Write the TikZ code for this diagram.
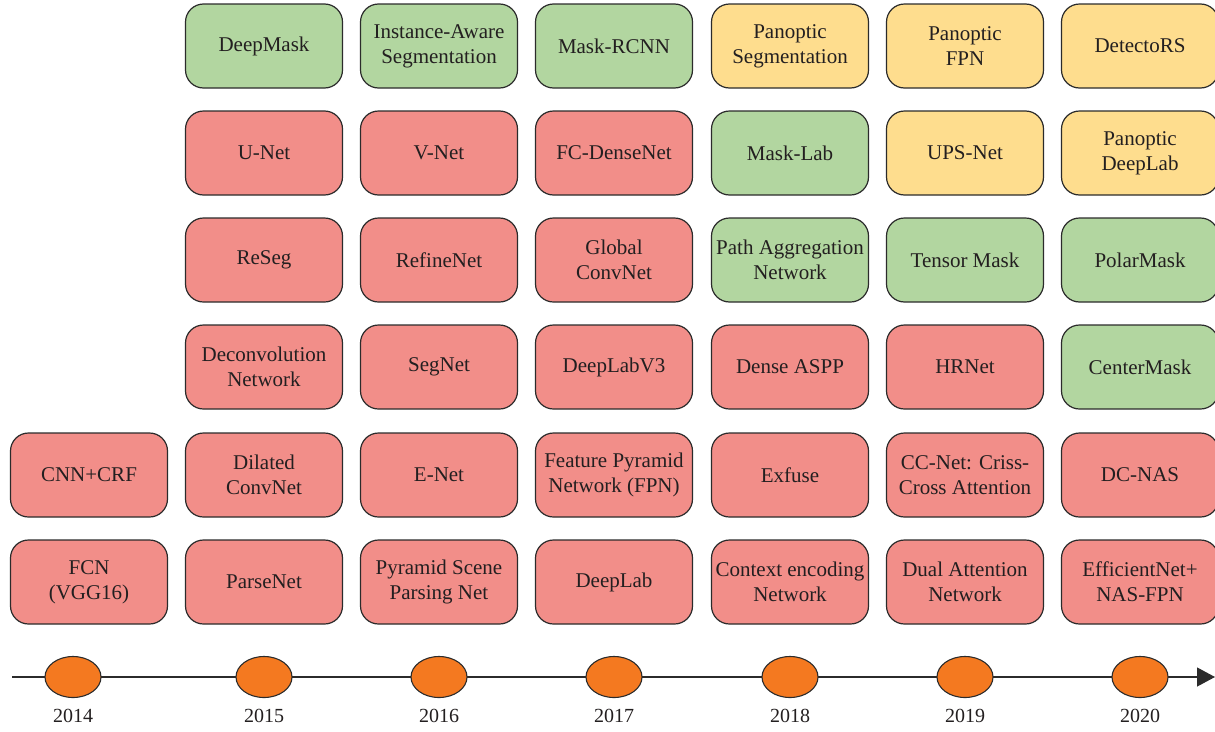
\documentclass[tikz,border=0pt]{standalone}
\usepackage{fontspec}
\setmainfont{Liberation Serif}
\usetikzlibrary{arrows.meta,shapes.geometric}
\definecolor{segred}{HTML}{F28E89}
\definecolor{seggreen}{HTML}{B2D6A0}
\definecolor{segyellow}{HTML}{FEDD8E}
\definecolor{yearorange}{HTML}{F47920}
\definecolor{edge}{HTML}{2B2B2B}
\definecolor{ink}{HTML}{231F20}
\tikzset{
  model/.style={draw=edge, line width=1.2pt, rounded corners=18pt,
    minimum width=157pt, minimum height=84pt, inner sep=2pt, align=center,
    font=\fontsize{21}{25}\selectfont, text=ink},
  semantic/.style={model, fill=segred},
  instance/.style={model, fill=seggreen},
  panoptic/.style={model, fill=segyellow},
  yeardot/.style={ellipse, draw=edge, line width=1.1pt, fill=yearorange,
    minimum width=56pt, minimum height=41pt, inner sep=0pt},
  yearlabel/.style={font=\fontsize{20}{22}\selectfont, text=ink},
}
\begin{document}
\begin{tikzpicture}[x=1pt,y=-1pt]
\useasboundingbox (0,0) rectangle (1215,731);

% row 1 (top)
\node[instance] (deepmask) at (264,46) {DeepMask};
\node[instance] (instaware) at (439,46) {Instance-Aware\\Segmentation};
\node[instance] (maskrcnn) at (614,46) {Mask-RCNN};
\node[panoptic] (panseg) at (790,46) {Panoptic\\Segmentation};
\node[panoptic] (panfpn) at (965,46) {Panoptic\\FPN};
\node[panoptic] (detectors) at (1140,46) {DetectoRS};

% row 2
\node[semantic] (unet) at (264,153) {U-Net};
\node[semantic] (vnet) at (439,153) {V-Net};
\node[semantic] (fcdense) at (614,153) {FC-DenseNet};
\node[instance] (masklab) at (790,153) {Mask-Lab};
\node[panoptic] (upsnet) at (965,153) {UPS-Net};
\node[panoptic] (pandeeplab) at (1140,153) {Panoptic\\DeepLab};

% row 3
\node[semantic] (reseg) at (264,260) {ReSeg};
\node[semantic] (refinenet) at (439,260) {RefineNet};
\node[semantic] (globalconv) at (614,260) {Global\\ConvNet};
\node[instance] (panet) at (790,260) {Path Aggregation\\Network};
\node[instance] (tensormask) at (965,260) {Tensor Mask};
\node[instance] (polarmask) at (1140,260) {PolarMask};

% row 4
\node[semantic] (deconv) at (264,367) {Deconvolution\\Network};
\node[semantic] (segnet) at (439,367) {SegNet};
\node[semantic] (deeplabv3) at (614,367) {DeepLabV3};
\node[semantic] (denseaspp) at (790,367) {Dense ASPP};
\node[semantic] (hrnet) at (965,367) {HRNet};
\node[instance] (centermask) at (1140,367) {CenterMask};

% row 5
\node[semantic] (cnncrf) at (89,475) {CNN+CRF};
\node[semantic] (dilated) at (264,475) {Dilated\\ConvNet};
\node[semantic] (enet) at (439,475) {E-Net};
\node[semantic] (fpn) at (614,475) {Feature Pyramid\\Network (FPN)};
\node[semantic] (exfuse) at (790,475) {Exfuse};
\node[semantic] (ccnet) at (965,475) {CC-Net: Criss-\\Cross Attention};
\node[semantic] (dcnas) at (1140,475) {DC-NAS};

% row 6 (bottom)
\node[semantic] (fcn) at (89,582) {FCN\\(VGG16)};
\node[semantic] (parsenet) at (264,582) {ParseNet};
\node[semantic] (pspnet) at (439,582) {Pyramid Scene\\Parsing Net};
\node[semantic] (deeplab) at (614,582) {DeepLab};
\node[semantic] (encnet) at (790,582) {Context encoding\\Network};
\node[semantic] (danet) at (965,582) {Dual Attention\\Network};
\node[semantic] (effnet) at (1140,582) {EfficientNet+\\NAS-FPN};

% timeline
\coordinate (tstart) at (12,677);
\coordinate (tend) at (1215,677);
\draw[edge, line width=1.2pt, -{Triangle[length=18pt,width=19pt]}] (tstart) -- (tend);

\node[yeardot] (y14) at (73,677) {};
\node[yeardot] (y15) at (264,677) {};
\node[yeardot] (y16) at (439,677) {};
\node[yeardot] (y17) at (614,677) {};
\node[yeardot] (y18) at (790,677) {};
\node[yeardot] (y19) at (965,677) {};
\node[yeardot] (y20) at (1140,677) {};

\node[yearlabel] (l14) at (73,716) {2014};
\node[yearlabel] (l15) at (264,716) {2015};
\node[yearlabel] (l16) at (439,716) {2016};
\node[yearlabel] (l17) at (614,716) {2017};
\node[yearlabel] (l18) at (790,716) {2018};
\node[yearlabel] (l19) at (965,716) {2019};
\node[yearlabel] (l20) at (1140,716) {2020};
\end{tikzpicture}
\end{document}
